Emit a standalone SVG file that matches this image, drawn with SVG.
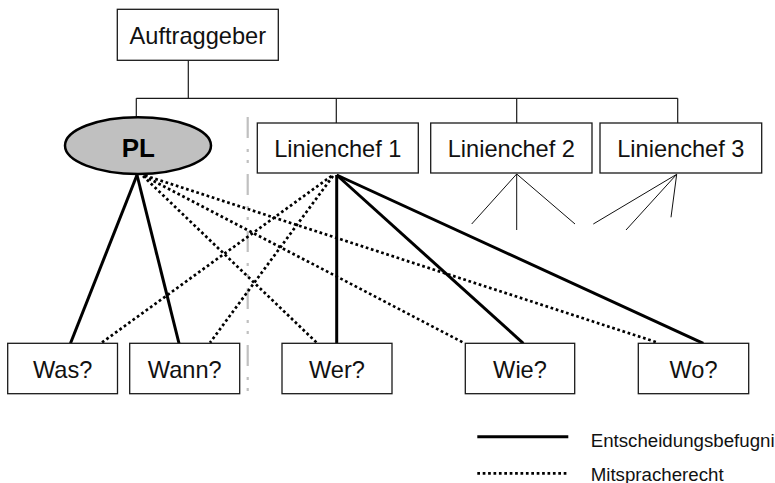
<svg xmlns="http://www.w3.org/2000/svg" width="775" height="483" viewBox="0 0 775 483">
  <style>
    .box { fill: #ffffff; stroke: #1a1a1a; stroke-width: 1.3; }
    .label { font-family: "Liberation Sans", Arial, sans-serif; font-size: 23.6px; fill: #111; text-anchor: middle; }
    .legend { font-family: "Liberation Sans", Arial, sans-serif; font-size: 18.7px; fill: #111; }
    .tree { stroke: #1a1a1a; stroke-width: 1.2; fill: none; }
    .thin { stroke: #111; stroke-width: 1; fill: none; }
    .decide { stroke: #000; stroke-width: 3; fill: none; }
    .voice { stroke: #000; stroke-width: 2.7; stroke-dasharray: 2.7 2.7; fill: none; }
    .divider { stroke: #c0c0c0; stroke-width: 2.2; stroke-dasharray: 21 11 3 8 3 11; fill: none; }
  </style>
  <rect width="775" height="483" fill="#ffffff"/>

  <!-- Organisational tree lines -->
  <g id="connectors">
    <g id="hierarchy">
      <path class="tree" d="M188.3 60.3 V98.3 M136.3 98.3 H677.7 M136.3 98.3 V117.3 M336.3 98.3 V123 M516.7 98.3 V123 M677.7 98.3 V123"/>
    </g>
    <!-- fan-out of Linienchef 2 and 3 -->
    <g id="fans">
      <path class="thin" d="M516.7 174 L471.7 224 M516.7 174 V230 M516.7 174 L575 224"/>
      <path class="thin" d="M676.7 174.3 L593.3 224 M676.7 174.3 L626 230 M676.7 174.3 L671 217.3"/>
    </g>
    <!-- separator between project and line organisation -->
    <line class="divider" x1="247.7" y1="117" x2="247.7" y2="393"/>
    <!-- Mitspracherecht -->
    <g id="voice-lines">
      <path class="voice" d="M143 176 L316.7 342.7"/>
      <path class="voice" d="M144 176 L463.5 342.7"/>
      <path class="voice" d="M145 175.5 L658 342.7"/>
      <path class="voice" d="M331.5 176 L101.7 342.7"/>
      <path class="voice" d="M333 176 L210 342.7"/>
    </g>
    <!-- Entscheidungsbefugnis -->
    <g id="decision-lines">
      <path class="decide" d="M137 175 L70.5 343.3"/>
      <path class="decide" d="M137 175 L179 343.3"/>
      <path class="decide" d="M336.7 175 V343.3"/>
      <path class="decide" d="M336.7 175 L523.3 343.3"/>
      <path class="decide" d="M336.7 175 L703.3 343.3"/>
    </g>
  </g>

  <g id="auftraggeber">
    <rect class="box" x="117.3" y="9.3" width="161" height="51"/>
    <text class="label" x="197.8" y="44">Auftraggeber</text>
  </g>

  <g id="pl">
    <ellipse cx="138" cy="145.6" rx="73" ry="28.4" fill="#c0c0c0" stroke="#000" stroke-width="2.5"/>
    <text x="138.3" y="156.5" font-family="'Liberation Sans', Arial, sans-serif" font-size="26px" font-weight="bold" fill="#000" text-anchor="middle">PL</text>
  </g>

  <g id="linienchef1">
    <rect class="box" x="257.3" y="123" width="161" height="50"/>
    <text class="label" x="337.8" y="156.7">Linienchef 1</text>
  </g>
  <g id="linienchef2">
    <rect class="box" x="430.7" y="123" width="161.3" height="50"/>
    <text class="label" x="511.3" y="156.7">Linienchef 2</text>
  </g>
  <g id="linienchef3">
    <rect class="box" x="600" y="123" width="161.7" height="50"/>
    <text class="label" x="680.8" y="156.7">Linienchef 3</text>
  </g>

  <g id="was">
    <rect class="box" x="7.7" y="343.3" width="109.8" height="50.4"/>
    <text class="label" x="62.6" y="377.5">Was?</text>
  </g>
  <g id="wann">
    <rect class="box" x="129.7" y="343.3" width="110" height="50.4"/>
    <text class="label" x="184.7" y="377.5">Wann?</text>
  </g>
  <g id="wer">
    <rect class="box" x="282" y="343.3" width="110" height="50.4"/>
    <text class="label" x="337" y="377.5">Wer?</text>
  </g>
  <g id="wie">
    <rect class="box" x="465.3" y="343.3" width="109.4" height="50.4"/>
    <text class="label" x="520" y="377.5">Wie?</text>
  </g>
  <g id="wo">
    <rect class="box" x="638.3" y="343.3" width="110.4" height="50.4"/>
    <text class="label" x="693.5" y="377.5">Wo?</text>
  </g>

  <g id="legend">
    <line class="decide" x1="477.3" y1="436.7" x2="568.3" y2="436.7" stroke-width="3.3"/>
    <text class="legend" x="590.7" y="447">Entscheidungsbefugni</text>
    <line class="voice" x1="477.3" y1="473.3" x2="568.3" y2="473.3"/>
    <text class="legend" x="590.7" y="480.5">Mitspracherecht</text>
  </g>
</svg>
